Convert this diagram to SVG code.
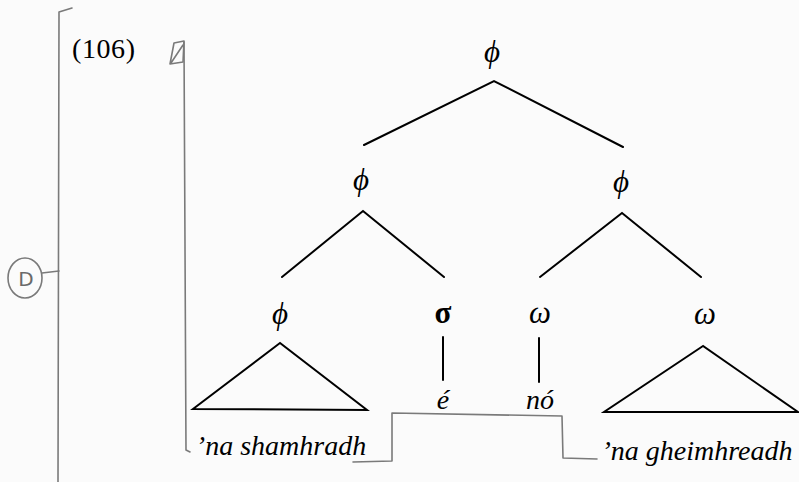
<svg xmlns="http://www.w3.org/2000/svg" width="799" height="482" viewBox="0 0 799 482">
<style>
.lbl{font-size:28px;fill:#000;text-anchor:middle}
.gk{font-size:31px}
.it{font-style:italic}
.edge{stroke:#000;stroke-width:2;fill:none;stroke-linecap:round;stroke-linejoin:miter}
.pen{stroke:#7a7a7a;stroke-width:1.6;fill:none;stroke-linecap:round;stroke-linejoin:round}
.num{font-size:28px;fill:#000}
.hand{font-size:20px;fill:#6a6a6a;text-anchor:middle}
</style>
<rect width="799" height="482" fill="#fbfbfb"/>
<g id="pencil">
<path class="pen" d="M72,8 L59,12 L58,482"/>
<path class="pen" d="M184,42 L186,450 L190,452"/>
<path class="pen" d="M170,64 L174,43 L184,41 L183,62 Z M171,63 L183,45"/>
<ellipse class="pen" cx="25" cy="278" rx="17" ry="20"/>
<path class="pen" d="M42,273 L59,271"/>
<path class="pen" d="M353,462 L392,461 L392,413 L562,416 L563,458 L597,459"/>
</g>
<g font-family="Liberation Serif, DejaVu Serif, serif">
<g id="example-number"><text class="num" x="72" y="58" textLength="63">(106)</text></g>
<g id="mark-D"><text class="hand" x="26" y="286" font-family="DejaVu Sans, sans-serif">D</text></g>
<g id="phi-root"><text class="lbl gk it" x="492" y="62">ϕ</text></g>
<g id="phi-left"><text class="lbl gk it" x="361" y="190">ϕ</text></g>
<g id="phi-right"><text class="lbl gk it" x="621" y="192">ϕ</text></g>
<g id="phi-low"><text class="lbl gk it" x="280" y="324">ϕ</text></g>
<g id="sigma"><text class="lbl gk" x="443" y="323" font-weight="bold">σ</text></g>
<g id="omega-1"><text class="lbl gk it" x="540" y="323">ω</text></g>
<g id="omega-2"><text class="lbl gk it" x="705" y="324">ω</text></g>
<g id="word-e"><text class="lbl it" x="443" y="409">é</text></g>
<g id="word-no"><text class="lbl it" x="540" y="409">nó</text></g>
<g id="phrase-1"><text class="lbl it" x="281" y="455">’na shamhradh</text></g>
<g id="phrase-2"><text class="lbl it" x="697" y="460">’na gheimhreadh</text></g>
</g>
<g id="connectors">
<path class="edge" d="M364,145 L494,81 L623,147"/>
<path class="edge" d="M282,277 L363,211 L444,277"/>
<path class="edge" d="M540,277 L622,213 L701,277"/>
<path class="edge" d="M443,337 L443,380"/>
<path class="edge" d="M539,338 L539,382"/>
<path class="edge" d="M280,343 L193,409 L367,410 Z"/>
<path class="edge" d="M703,346 L604,412 L798,412 Z"/>
</g>
</svg>
